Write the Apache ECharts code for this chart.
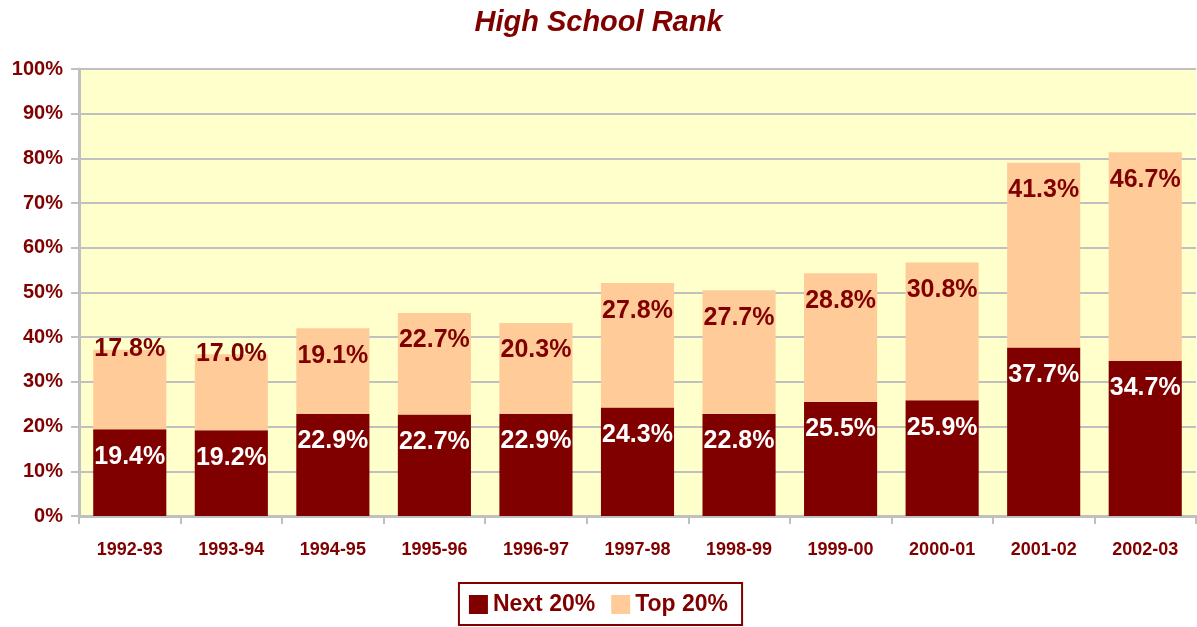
<!DOCTYPE html>
<html>
<head>
<meta charset="utf-8">
<title>High School Rank</title>
<script src="https://cdn.jsdelivr.net/npm/echarts@6/dist/echarts.min.js"></script>
<style>
  html, body { margin: 0; padding: 0; background: #fff; }
  #chart { width: 1197px; height: 627px; }
</style>
</head>
<body>
<div id="chart"></div>
<script>
const years = ['1992-93', '1993-94', '1994-95', '1995-96', '1996-97', '1997-98',
  '1998-99', '1999-00', '2000-01', '2001-02', '2002-03']
const next20 = [19.4, 19.2, 22.9, 22.7, 22.9, 24.3, 22.8, 25.5, 25.9, 37.7, 34.7]
const top20 = [17.8, 17.0, 19.1, 22.7, 20.3, 27.8, 27.7, 28.8, 30.8, 41.3, 46.7]
// first two top labels sit at the bar top in the original
const raisedLabels = ['1992-93', '1993-94']

const red = '#800000'
const font = '"Liberation Sans", Arial, sans-serif'

const mychart = echarts.init(document.getElementById('chart'))

const labelBase = {
  show: true,
  position: 'insideTop',
  distance: 15,
  fontFamily: font,
  fontWeight: 'bold',
  fontSize: 25,
  formatter: p => p.value.toFixed(1) + '%'
}

mychart.setOption({
  animation: false,
  title: {
    text: 'High School Rank',
    left: 'center',
    top: 3,
    textStyle: {
      color: red,
      fontFamily: font,
      fontSize: 29,
      fontWeight: 'bold',
      fontStyle: 'italic'
    }
  },
  grid: {
    left: 79,
    right: 1,
    top: 69,
    bottom: 111,
    show: true,
    backgroundColor: '#FFFFCC',
    borderWidth: 0
  },
  legend: {
    bottom: 2,
    left: 'center',
    itemWidth: 19,
    itemHeight: 19,
    itemGap: 16,
    padding: [10, 14, 9, 10],
    borderColor: red,
    borderWidth: 2,
    icon: 'rect',
    textStyle: {
      color: red,
      fontFamily: font,
      fontWeight: 'bold',
      fontSize: 23
    },
    data: ['Next 20%', 'Top 20%']
  },
  xAxis: {
    type: 'category',
    data: years,
    axisLine: { show: true, lineStyle: { color: '#C0C0C0', width: 3 } },
    axisTick: { show: true, length: 8, lineStyle: { color: '#C0C0C0', width: 2 } },
    axisLabel: {
      color: red,
      fontFamily: font,
      fontWeight: 'bold',
      fontSize: 18,
      margin: 25
    }
  },
  yAxis: {
    type: 'value',
    min: 0,
    max: 100,
    interval: 10,
    axisLine: { show: true, lineStyle: { color: '#C0C0C0', width: 3 } },
    axisTick: { show: true, length: 8, lineStyle: { color: '#C0C0C0', width: 2 } },
    splitLine: { lineStyle: { color: '#C0C0C0', width: 2 } },
    axisLabel: {
      color: red,
      fontFamily: font,
      fontWeight: 'bold',
      fontSize: 20,
      margin: 16,
      formatter: '{value}%'
    }
  },
  series: [
    {
      name: 'Next 20%',
      type: 'bar',
      stack: 'rank',
      barWidth: '72%',
      itemStyle: { color: red },
      label: Object.assign({}, labelBase, { color: '#fff' }),
      data: next20
    },
    {
      name: 'Top 20%',
      type: 'bar',
      stack: 'rank',
      barWidth: '72%',
      itemStyle: { color: '#FFCC99' },
      label: Object.assign({}, labelBase, { color: red }),
      data: top20.map((v, i) => raisedLabels.includes(years[i])
        ? { value: v, label: { offset: [0, -28] } }
        : v)
    }
  ]
})
</script>
</body>
</html>
